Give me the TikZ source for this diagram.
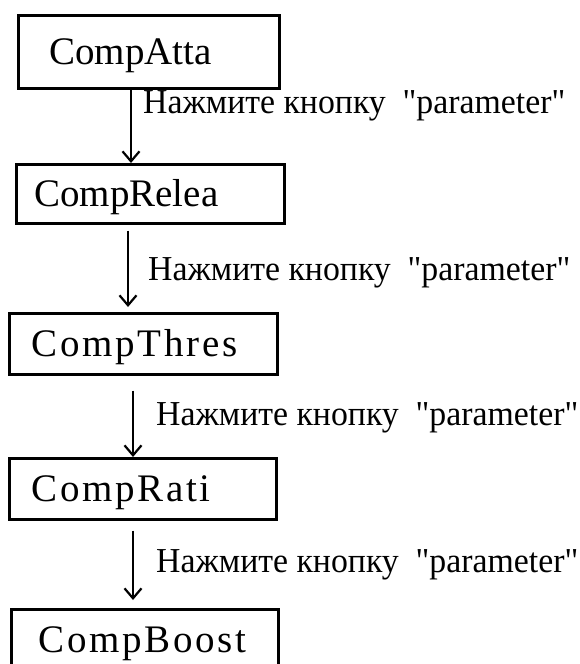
\documentclass[tikz,border=0pt]{standalone}
\usepackage{fontspec}
\setmainfont{Liberation Serif}
\newfontfamily\boxfont{Liberation Serif}
\newfontfamily\boxfontsp[LetterSpace=7]{Liberation Serif}
\newfontfamily\labfont[FakeStretch=0.965]{Liberation Serif}
\usetikzlibrary{arrows.meta,calc}
\tikzset{
  stepbox/.style={draw=black, line width=2.6pt, rectangle, anchor=north west,
    align=left, inner ysep=0pt, text depth=0pt, text height=26pt},
  arr/.style={line width=2pt, -{Straight Barb[length=10pt,width=17pt,line width=2.2pt]}},
  lab/.style={anchor=base west, inner sep=0pt, font=\labfont\fontsize{35}{35}\selectfont},
}
\begin{document}
\begin{tikzpicture}[x=1pt,y=-1pt]
\useasboundingbox (0,0) rectangle (580,664);
\clip (0,0) rectangle (580,664);
% boxes: width = text width + 2*inner xsep
\node[stepbox, inner xsep=31pt, text width=199pt, minimum height=73pt,
  font=\boxfont\fontsize{39}{39}\selectfont] (b1) at (17,14) {CompAtta};
\node[stepbox, inner xsep=18pt, text width=232pt, minimum height=59pt,
  font=\boxfont\fontsize{39}{39}\selectfont] (b2) at (15,163) {CompRelea};
\node[stepbox, inner xsep=22pt, text width=224pt, minimum height=61pt,
  font=\boxfontsp\fontsize{39}{39}\selectfont] (b3) at (8,312) {CompThres};
\node[stepbox, inner xsep=22pt, text width=223pt, minimum height=61pt,
  font=\boxfontsp\fontsize{39}{39}\selectfont] (b4) at (8,457) {CompRati};
\node[stepbox, inner xsep=27pt, text width=213pt, minimum height=61pt,
  font=\boxfontsp\fontsize{39}{39}\selectfont] (b5) at (10,608) {CompBoost};
% arrow x positions
\coordinate (x1) at (131,0);
\coordinate (x2) at (128,0);
\coordinate (x3) at (133,0);
\coordinate (x4) at (133,0);
\draw[arr] (x1 |- b1.south) -- (x1 |- b2.north);
\draw[arr, shorten <=6pt, shorten >=5pt] (x2 |- b2.south) -- (x2 |- b3.north);
\draw[arr, shorten <=15pt, shorten >=0pt] (x3 |- b3.south) -- (x3 |- b4.north);
\draw[arr, shorten <=10pt, shorten >=8pt] (x4 |- b4.south) -- (x4 |- b5.north);
% labels
\node[lab] (l1) at (143,113) {Нажмите кнопку\ \ "parameter"};
\node[lab] (l2) at (148,280) {Нажмите кнопку\ \ "parameter"};
\node[lab] (l3) at (156,425) {Нажмите кнопку\ \ "parameter"};
\node[lab] (l4) at (156,572) {Нажмите кнопку\ \ "parameter"};
\end{tikzpicture}
\end{document}
